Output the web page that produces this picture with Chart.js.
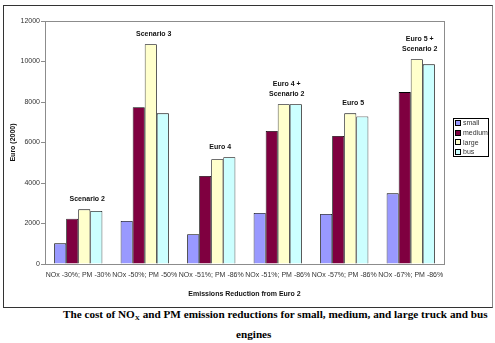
<!DOCTYPE html>
<html>
<head>
<meta charset="utf-8">
<script src="https://cdn.jsdelivr.net/npm/chart.js@4.4.1/dist/chart.umd.min.js"></script>
<style>
  html, body { margin: 0; padding: 0; background: #fff; }
  body { width: 495px; height: 343px; position: relative; overflow: hidden; }
  #frame { position: absolute; left: 3px; top: 5px; width: 488px; height: 301px; border: 1px solid #333; border-right-color: #888; }
  #wrap { position: absolute; left: 4px; top: 6px; width: 487px; height: 300px; }
  .cap { position: absolute; font-family: "Liberation Serif", "Times New Roman", serif; font-weight: bold; font-size: 11.2px; color: #000; white-space: nowrap; }
  .cap sub { font-size: 7px; vertical-align: -2px; }
</style>
</head>
<body>
<div id="frame"></div>
<div id="wrap"><canvas id="chart" width="487" height="300"></canvas></div>
<div class="cap" id="cap1" style="left:63px; top:308px;">The cost of NO<sub>X</sub> and PM emission reductions for small, medium, and large truck and bus</div>
<div class="cap" id="cap2" style="left:236px; top:328px;">engines</div>
<script>
// Data
const categories = ['NOx -30%; PM -30%', 'NOx -50%; PM -50%', 'NOx -51%; PM -86%', 'NOx -51%; PM -86%', 'NOx -57%; PM -86%', 'NOx -67%; PM -86%'];
const smallVals  = [1020, 2120, 1470, 2520, 2470, 3490];
const mediumVals = [2240, 7740, 4350, 6570, 6320, 8490];
const largeVals  = [2700, 10850, 5170, 7890, 7440, 10110];
const busVals    = [2620, 7440, 5270, 7890, 7290, 9860];
const groupNotes = [['Scenario 2'], ['Scenario 3'], ['Euro 4'], ['Euro 4 +', 'Scenario 2'], ['Euro 5'], ['Euro 5 +', 'Scenario 2']];
const yMax = 12000;
const yStep = 2000;

const FONT = '"Liberation Sans", Arial, sans-serif';

// plot area frame + group labels + boxed legend
const extras = {
    id: 'extras',
    beforeDatasetsDraw(chart) {
        const a = chart.chartArea;
        const ctx = chart.ctx;
        ctx.save();
        ctx.strokeStyle = '#8c8c8c';
        ctx.lineWidth = 1;
        ctx.strokeRect(Math.round(a.left) + 0.5, Math.round(a.top) + 0.5, Math.round(a.right - a.left), Math.round(a.bottom - a.top));
        ctx.restore();
    },
    afterDraw(chart) {
        const ctx = chart.ctx;
        const x = chart.scales.x, y = chart.scales.y;
        ctx.save();
        ctx.font = 'bold 7px ' + FONT;
        ctx.fillStyle = '#111';
        ctx.textAlign = 'center';
        ctx.textBaseline = 'middle';
        groupNotes.forEach((lines, i) => {
            const top = Math.max(smallVals[i], mediumVals[i], largeVals[i], busVals[i]);
            const cx = x.getPixelForValue(i) + 9;
            let cy = y.getPixelForValue(top) - 10;
            for (let k = lines.length - 1; k >= 0; k--) {
                ctx.fillText(lines[k], cx, cy);
                cy -= 10;
            }
        });

        // legend
        const a = chart.chartArea;
        const lx = a.right + 9, ly = 112, lw = 35, lh = 38;
        ctx.strokeStyle = '#000';
        ctx.lineWidth = 1;
        ctx.strokeRect(lx + 0.5, ly + 0.5, lw, lh);
        ctx.font = '7px ' + FONT;
        ctx.textAlign = 'left';
        chart.data.datasets.forEach((ds, i) => {
            const ry = ly + 5 + i * 9.6;
            ctx.fillStyle = ds.backgroundColor;
            ctx.fillRect(lx + 3, Math.round(ry) - 2, 4, 4);
            ctx.strokeStyle = '#000';
            ctx.strokeRect(lx + 2.5, Math.round(ry) - 2.5, 5, 5);
            ctx.fillStyle = '#333';
            ctx.fillText(ds.label, lx + 10, ry + 0.5);
        });
        ctx.restore();
    }
};

function makeSet(label, data, color) {
    return {
        label: label,
        data: data,
        backgroundColor: color,
        borderColor: '#000',
        borderWidth: 0.8,
        categoryPercentage: 0.725,
        barPercentage: 1.0
    };
}

new Chart(document.getElementById('chart'), {
    type: 'bar',
    data: {
        labels: categories,
        datasets: [
            makeSet('small', smallVals, '#9999FF'),
            makeSet('medium', mediumVals, '#7F0040'),
            makeSet('large', largeVals, '#FFFFCC'),
            makeSet('bus', busVals, '#CCFFFF')
        ]
    },
    options: {
        responsive: false,
        animation: false,
        layout: { padding: { top: 15, right: 47, left: 0, bottom: 0 } },
        plugins: {
            legend: { display: false },
            tooltip: { enabled: false }
        },
        scales: {
            x: {
                grid: { display: false, drawTicks: false },
                border: { display: false },
                ticks: {
                    autoSkip: false, maxRotation: 0, minRotation: 0,
                    padding: 7,
                    color: '#333',
                    font: { family: FONT, size: 7 }
                },
                title: {
                    display: true,
                    text: 'Emissions Reduction from Euro 2',
                    color: '#111',
                    font: { family: FONT, size: 7, weight: 'bold' },
                    padding: { top: 0, bottom: 8 }
                },
                afterFit(scale) { scale.height = 42; }
            },
            y: {
                min: 0,
                max: yMax,
                grid: { drawOnChartArea: false, drawTicks: true, tickLength: 4, color: '#8c8c8c' },
                border: { display: false },
                ticks: {
                    stepSize: yStep,
                    padding: 1,
                    color: '#333',
                    font: { family: FONT, size: 7 },
                    callback: v => String(v)
                },
                title: {
                    display: true,
                    text: 'Euro (2000)',
                    color: '#111',
                    font: { family: FONT, size: 7, weight: 'bold' },
                    padding: { top: 5, bottom: 0 }
                },
                afterFit(scale) { scale.width = 41; }
            }
        }
    },
    plugins: [extras]
});
</script>
</body>
</html>
